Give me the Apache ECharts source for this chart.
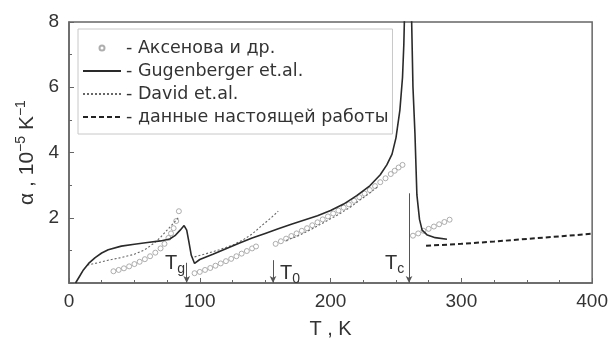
<!DOCTYPE html>
<html>
<head>
<meta charset="utf-8">
<script src="https://cdn.jsdelivr.net/npm/echarts@6/dist/echarts.min.js"></script>
<style>
  html, body { margin: 0; padding: 0; background: #fff; }
  #chart { width: 611px; height: 344px; }
</style>
</head>
<body>
<div id="chart"></div>
<script>
// axis ticks
var xTicks = [0, 100, 200, 300, 400];
var yTicks = [0, 2, 4, 6, 8];

// Аксенова и др. (circles), three runs
var aksenova1 = [[34, 0.36], [38, 0.4], [42, 0.45], [46, 0.51], [50, 0.58], [54, 0.65], [58, 0.73], [62, 0.82], [66, 0.93], [70, 1.06], [73, 1.2], [76, 1.38], [78, 1.52], [80, 1.68], [82, 1.9], [84, 2.2]];
var aksenova2 = [[96, 0.3], [100, 0.34], [104, 0.4], [108, 0.46], [112, 0.53], [116, 0.6], [120, 0.67], [124, 0.74], [128, 0.82], [132, 0.9], [136, 0.98], [140, 1.06], [143, 1.12],
  [158, 1.2], [162, 1.28], [166, 1.36], [170, 1.44], [174, 1.52], [178, 1.6], [182, 1.68], [186, 1.77], [190, 1.86], [194, 1.95], [198, 2.04], [202, 2.13], [206, 2.22], [210, 2.31],
  [214, 2.41], [218, 2.52], [222, 2.63], [226, 2.74], [230, 2.85], [234, 2.97], [238, 3.09], [242, 3.21], [246, 3.34], [249, 3.44], [252, 3.54], [255, 3.62]];
var aksenova3 = [[263, 1.45], [267, 1.52], [271, 1.6], [275, 1.66], [279, 1.73], [283, 1.8], [287, 1.87], [291, 1.94]];

// Gugenberger et.al. (solid)
var gugen = [[5, 0], [8, 0.2], [11, 0.4], [15, 0.6], [20, 0.78], [25, 0.92], [30, 1.02], [40, 1.13], [50, 1.19], [60, 1.24], [70, 1.29], [77, 1.35], [81, 1.45], [85, 1.62], [88, 1.76],
  [90, 1.62], [91.5, 1.3], [93.5, 0.85], [96, 0.6], [100, 0.72], [110, 0.88], [120, 1.05], [130, 1.22], [140, 1.38], [150, 1.52], [160, 1.66], [170, 1.8], [180, 1.93], [190, 2.06],
  [200, 2.22], [210, 2.42], [220, 2.68], [230, 2.98], [238, 3.32], [243, 3.62], [247, 3.95], [250, 4.45], [253, 5.3], [255, 6.3], [256, 7.3], [257, 9], [258, 11],
  [261, 11], [262, 8], [263, 6], [264.5, 4.6], [266, 2.7], [268, 1.95], [270, 1.62], [274, 1.47], [280, 1.39], [289, 1.34]];

// David et.al. (dotted)
var david1 = [[14, 0.55], [22, 0.62], [30, 0.7], [40, 0.78], [50, 0.88], [58, 1.02], [65, 1.22], [70, 1.4], [75, 1.62], [80, 1.84], [84, 2.02]];
var david2 = [[96, 0.8], [105, 0.9], [115, 1.02], [125, 1.16], [133, 1.32], [140, 1.5], [148, 1.78], [154, 1.98], [160, 2.2]];
var david3 = [[166, 1.3], [176, 1.46], [186, 1.66], [196, 1.88], [206, 2.1], [215, 2.32], [222, 2.53], [230, 2.76], [236, 2.95]];

// данные настоящей работы (dashed)
var present = [[273, 1.14], [300, 1.2], [325, 1.27], [350, 1.35], [375, 1.43], [400, 1.51]];

// characteristic temperatures: T, top of pointer line
var tg = [90, 0.62];
var t0 = [156, 0.7];
var tc = [260, 2.75];

var S = { n1: 'Аксенова и др.', n2: 'Gugenberger et.al.', n3: 'David et.al.', n4: 'данные настоящей работы' };
var FONT = 'DejaVu Sans';

function circles(d) {
  return { name: S.n1, type: 'scatter', data: d, symbol: 'circle', symbolSize: 5,
    itemStyle: { color: '#fff', borderColor: '#9a9a9a', borderWidth: 1 }, z: 2 };
}
function dotted(d) {
  return { name: S.n3, type: 'line', data: d, showSymbol: false, symbol: 'none',
    itemStyle: { color: '#666' },
    lineStyle: { color: '#666', width: 1.1, type: [2, 2] }, z: 3 };
}
function pointer(p) {
  return [{ coord: [p[0], p[1]] }, { coord: [p[0], 0] }];
}

var chart = echarts.init(document.getElementById('chart'));
chart.setOption({
  animation: false,
  backgroundColor: '#fff',
  grid: { left: 69, right: 18, top: 22, bottom: 54, show: true, borderColor: '#666', borderWidth: 1.5 },
  legend: {
    orient: 'vertical', left: 78, top: 29,
    padding: [9, 4, 7, 4],
    borderColor: '#c8c8c8', borderWidth: 1,
    itemWidth: 38, itemHeight: 5, itemGap: 3,
    data: [
      { name: S.n1 },
      { name: S.n2, itemStyle: { opacity: 0 } },
      { name: S.n3, itemStyle: { opacity: 0 } },
      { name: S.n4, itemStyle: { opacity: 0 } }
    ],
    formatter: function (n) { return '- ' + n; },
    textStyle: { fontFamily: FONT, fontSize: 17.5, lineHeight: 20, color: '#333' }
  },
  xAxis: {
    type: 'value', min: xTicks[0], max: xTicks[xTicks.length - 1], interval: 100,
    name: 'T , K', nameLocation: 'middle', nameGap: 36,
    nameTextStyle: { fontFamily: 'Liberation Sans', fontSize: 20, color: '#333' },
    axisLine: { lineStyle: { color: '#666', width: 1.5 } },
    axisTick: { inside: true, length: 5, lineStyle: { color: '#666' } },
    minorTick: { show: true, splitNumber: 4, length: 3, lineStyle: { color: '#666' } },
    axisLabel: { fontFamily: 'Liberation Sans', fontSize: 19, color: '#333', margin: 9 },
    splitLine: { show: false }
  },
  yAxis: {
    type: 'value', min: yTicks[0], max: yTicks[yTicks.length - 1], interval: 2,
    name: '{t|α , 10}{s|−5}{t| K}{s|−1}', nameLocation: 'middle', nameGap: 24,
    nameTextStyle: {
      rich: {
        t: { fontFamily: 'Liberation Sans', fontSize: 21, color: '#333' },
        s: { fontFamily: 'Liberation Sans', fontSize: 14, color: '#333', padding: [0, 0, 11, 0] }
      }
    },
    axisLine: { lineStyle: { color: '#666', width: 1.5 } },
    axisTick: { inside: true, length: 5, lineStyle: { color: '#666' } },
    minorTick: { show: true, splitNumber: 2, length: 3, lineStyle: { color: '#666' } },
    axisLabel: { fontFamily: 'Liberation Sans', fontSize: 19, color: '#333', margin: 10,
      formatter: function (v) { return v === 0 ? '' : v; } },
    splitLine: { show: false }
  },
  series: [
    circles(aksenova1), circles(aksenova2), circles(aksenova3),
    { name: S.n2, type: 'line', data: gugen, showSymbol: false, symbol: 'none',
      itemStyle: { color: '#2a2a2a' },
      lineStyle: { color: '#2a2a2a', width: 1.6 }, z: 4 },
    dotted(david1), dotted(david2), dotted(david3),
    { name: S.n4, type: 'line', data: present, showSymbol: false, symbol: 'none',
      itemStyle: { color: '#222' },
      lineStyle: { color: '#222', width: 2, type: [5, 3] }, z: 4 },
    { type: 'scatter', data: [], silent: true,
      markLine: {
        silent: true, symbol: ['none', 'arrow'], symbolSize: [5, 7],
        lineStyle: { color: '#555', width: 1, type: 'solid' },
        label: { show: false },
        data: [pointer(tg), pointer(t0), pointer(tc)]
      },
      markPoint: {
        symbol: 'circle', symbolSize: 1,
        itemStyle: { color: 'rgba(0,0,0,0)' },
        label: {
          show: true, position: 'inside', formatter: function (p) { return p.name; },
          rich: {
            a: { fontFamily: 'Liberation Sans', fontSize: 20, color: '#333' },
            b: { fontFamily: 'Liberation Sans', fontSize: 14, color: '#333', padding: [12, 0, 0, 0] }
          }
        },
        data: [
          { name: '{a|T}{b|g}', coord: [81, 0.6] },
          { name: '{a|T}{b|0}', coord: [169, 0.3] },
          { name: '{a|T}{b|c}', coord: [249, 0.6] }
        ]
      }
    }
  ]
});
</script>
</body>
</html>
